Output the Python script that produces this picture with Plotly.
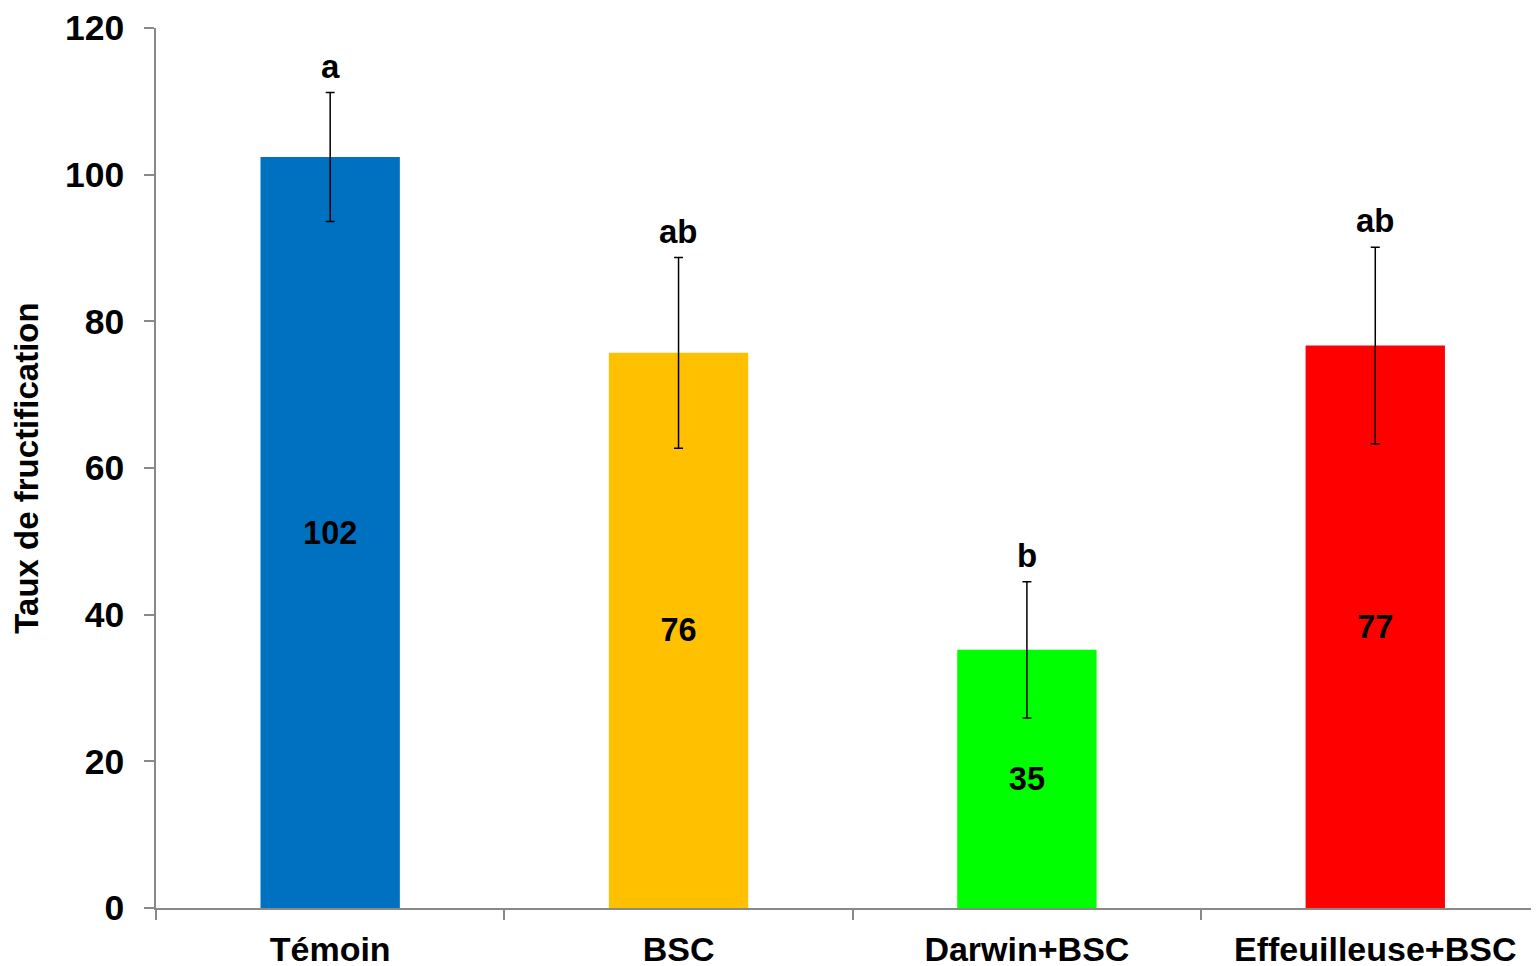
import plotly.graph_objects as go

categories = ["Témoin", "BSC", "Darwin+BSC", "Effeuilleuse+BSC"]
values = [102.4, 75.7, 35.2, 76.7]
errors = [8.8, 13.0, 9.3, 13.4]
value_labels = ["102", "76", "35", "77"]
letters = ["a", "ab", "b", "ab"]
colors = ["#0070C0", "#FFC000", "#00FF00", "#FF0000"]
y_ticks = [0, 20, 40, 60, 80, 100, 120]

FONT = "Liberation Sans, Arial, sans-serif"
AXIS_COLOR = "#898989"

fig = go.Figure()
fig.add_trace(go.Bar(
    x=categories,
    y=values,
    width=0.4,
    marker=dict(color=colors, line=dict(width=0)),
    error_y=dict(type="data", array=errors, visible=True,
                 color="black", thickness=1.5, width=4.5),
    text=value_labels,
    textposition="inside",
    insidetextanchor="middle",
    textangle=0,
    textfont=dict(family=FONT, size=32.5, color="black", weight="bold"),
    showlegend=False,
))

for c, v, e, l in zip(categories, values, errors, letters):
    fig.add_annotation(
        x=c, y=v + e, text=l, showarrow=False,
        yanchor="bottom", yshift=6,
        font=dict(family=FONT, size=33, color="black", weight="bold"),
    )

fig.update_layout(
    width=1539, height=966,
    margin=dict(l=148, r=8, t=20, b=66, autoexpand=False),
    paper_bgcolor="white", plot_bgcolor="white",
    font=dict(family=FONT, size=33, color="black", weight="bold"),
    xaxis=dict(
        range=[-0.5, 3.47], automargin=False,
        showline=True, linecolor=AXIS_COLOR, linewidth=1.5,
        ticks="outside", tickson="boundaries", ticklen=10,
        tickcolor=AXIS_COLOR, tickwidth=1.5,
        showgrid=False, zeroline=False,
        ticklabelstandoff=10,
        tickfont=dict(family=FONT, size=34, color="black", weight="bold"),
    ),
    yaxis=dict(
        range=[0, 120], tickvals=y_ticks, automargin=False,
        showline=True, linecolor=AXIS_COLOR, linewidth=1.5,
        ticks="outside", ticklen=10, tickcolor=AXIS_COLOR, tickwidth=1.5,
        showgrid=False, zeroline=False,
        ticklabelstandoff=13,
        tickfont=dict(family=FONT, size=35.5, color="black", weight="bold"),
        title=dict(text="Taux de fructification", standoff=22,
                   font=dict(family=FONT, size=33, color="black", weight="bold")),
    ),
)

fig.write_html("out.html")
